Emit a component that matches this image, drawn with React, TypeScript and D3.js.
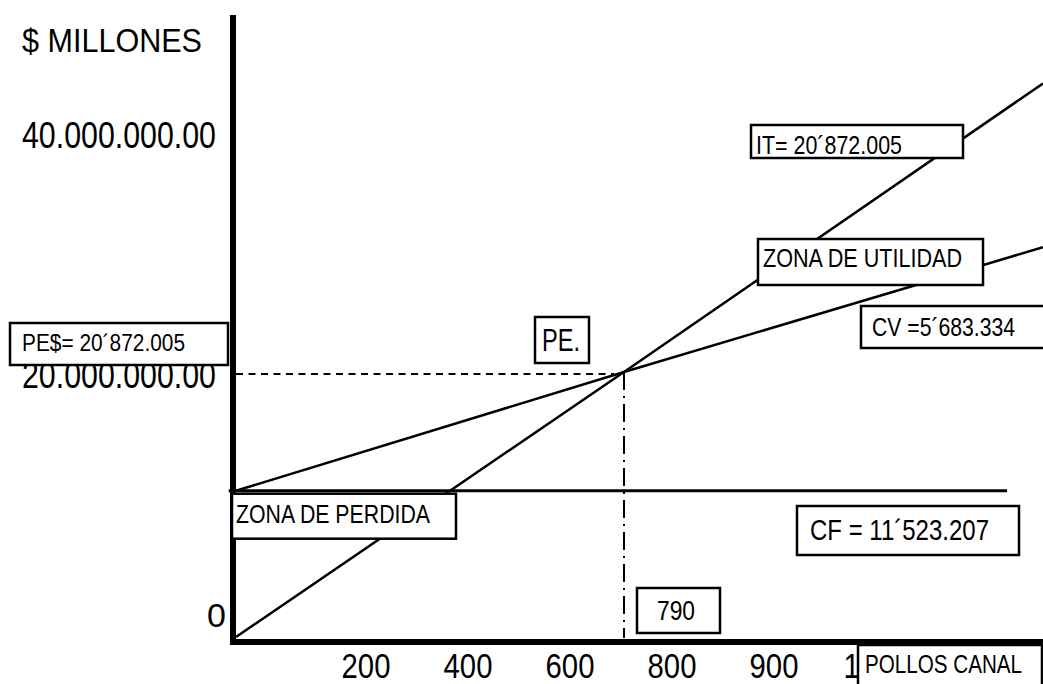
import React from "react";
import * as d3 from "d3";

// Break-even chart: income (IT), total cost (CV) and fixed cost (CF)
const quantities = [0, 790, 1643];
const incomeValues = [0, 20872005, 43600000];
const totalCostValues = [11523207, 20872005, 30700000];
const fixedCost = 11523207;
const fixedCostQuantities = [-15, 1570];
const breakEvenUnits = 790;
const breakEvenValue = 20872005;

const yTickValues = [0, 20000000, 40000000];
const yTickLabels = ["0", "20.000.000.00", "40.000.000.00"];
const xTickLabels = ["200", "400", "600", "800", "900", "1000"];

const W = 1043;
const H = 684;
const FONT = "'Liberation Sans Narrow', 'Arial Narrow', 'Liberation Sans', Arial, sans-serif";

type BoxProps = {
  x: number; y: number; w: number; h: number;
  text: string; tx: number; ty: number; fs: number; tl: number;
};

function LabelBox({ x, y, w, h, text, tx, ty, fs, tl }: BoxProps) {
  return (
    <g>
      <rect x={x} y={y} width={w} height={h} fill="#fff" stroke="#000" strokeWidth={2.5} />
      <text x={tx} y={ty} fontSize={fs} fontFamily={FONT} textLength={tl} lengthAdjust="spacingAndGlyphs" fill="#000">
        {text}
      </text>
    </g>
  );
}

export default function App() {
  const x = d3.scaleLinear().domain([0, breakEvenUnits]).range([236, 624]);
  const y = d3.scaleLinear().domain([0, breakEvenValue]).range([637, 372]);
  const yLabel = d3.scaleLinear().domain([0, 40000000]).range([627, 148]);
  const xLabel = d3.scalePoint<string>().domain(xTickLabels).range([366, 876]);

  const line = d3
    .line<[number, number]>()
    .x((d) => x(d[0]))
    .y((d) => y(d[1]));

  const incomePts = quantities.map((q, i) => [q, incomeValues[i]] as [number, number]);
  const costPts = quantities.map((q, i) => [q, totalCostValues[i]] as [number, number]);
  const fixedPts = fixedCostQuantities.map((q) => [q, fixedCost] as [number, number]);

  const peX = x(breakEvenUnits);
  const peY = y(breakEvenValue);
  const cfY = y(fixedCost);

  return (
    <svg width={W} height={H} style={{ position: "absolute", left: 0, top: 0, background: "#fff" }}>
      <rect x={0} y={0} width={W} height={H} fill="#fff" />

      {/* cost and income lines */}
      <path d={line(fixedPts) || ""} fill="none" stroke="#000" strokeWidth={3} />
      <path d={line(incomePts) || ""} fill="none" stroke="#000" strokeWidth={2.5} />
      <path d={line(costPts) || ""} fill="none" stroke="#000" strokeWidth={2.5} />

      {/* break-even guides */}
      <line x1={x(0)} x2={peX - 10} y1={peY + 2} y2={peY + 2} stroke="#000" strokeWidth={2} strokeDasharray="7 5.5" />
      <line x1={peX} x2={peX} y1={peY} y2={y(0) + 1} stroke="#000" strokeWidth={2} strokeDasharray="18 6 2 6" />

      {/* axes */}
      <line x1={233} x2={233} y1={15} y2={645} stroke="#000" strokeWidth={6} />
      <line x1={230} x2={W} y1={642} y2={642} stroke="#000" strokeWidth={6} />

      {/* axis labels */}
      <text x={22} y={52} fontSize={33} fontFamily={FONT} textLength={180} lengthAdjust="spacingAndGlyphs">$ MILLONES</text>
      {yTickValues.map((v, i) =>
        yTickLabels[i] === "0" ? (
          <text key={v} x={226} y={yLabel(v)} fontSize={34} fontFamily={FONT} textAnchor="end">
            {yTickLabels[i]}
          </text>
        ) : (
          <text key={v} x={22} y={yLabel(v)} fontSize={36} fontFamily={FONT} textLength={194} lengthAdjust="spacingAndGlyphs">
            {yTickLabels[i]}
          </text>
        )
      )}
      {xTickLabels.map((t) => (
        <text key={t} x={xLabel(t)} y={678} fontSize={35} fontFamily={FONT} textAnchor="middle" textLength={t.length * 16.3} lengthAdjust="spacingAndGlyphs">
          {t}
        </text>
      ))}

      {/* annotation boxes */}
      <LabelBox x={10} y={323} w={218} h={42} text="PE$= 20´872.005" tx={22} ty={351} fs={24} tl={163} />
      <LabelBox x={535} y={317} w={54} h={46} text="PE." tx={542} ty={351} fs={32} tl={38} />
      <LabelBox x={751} y={125} w={212} h={33} text="IT= 20´872.005" tx={756} ty={154} fs={25} tl={146} />
      <LabelBox x={758} y={239} w={225} h={46} text="ZONA DE UTILIDAD" tx={763} ty={267} fs={26} tl={199} />
      <LabelBox x={861} y={306} w={200} h={42} text="CV =5´683.334" tx={872} ty={336} fs={25} tl={143} />
      <LabelBox x={232} y={cfY + 3} w={224} h={45} text="ZONA DE PERDIDA" tx={236} ty={cfY + 32} fs={26} tl={194} />
      <LabelBox x={797} y={506} w={222} h={49} text="CF = 11´523.207" tx={810} ty={540} fs={30} tl={179} />
      <LabelBox x={637} y={588} w={83} h={45} text="790" tx={657} ty={620} fs={28} tl={38} />
      <LabelBox x={858} y={645} w={184} h={50} text="POLLOS CANAL" tx={865} ty={673} fs={25} tl={157} />
    </svg>
  );
}
